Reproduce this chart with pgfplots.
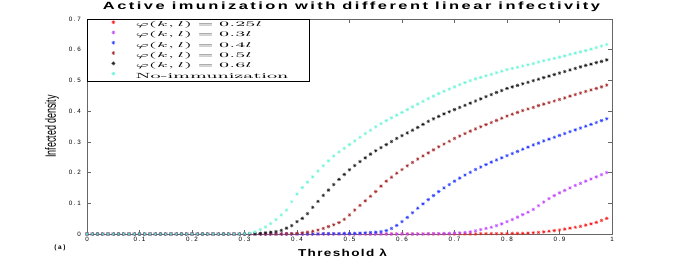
\documentclass[border=0pt]{standalone}
\usepackage{pgfplots}
\pgfplotsset{compat=1.18}
\usepackage{pgfplotstable}
\usepackage{fontspec}
\usepackage{graphicx}
\newfontfamily\tickfont[LetterSpace=25]{Liberation Sans}
\newfontfamily\titlefont[LetterSpace=15]{Liberation Sans}
\newfontfamily\labfont[LetterSpace=10]{Liberation Sans}
\newfontfamily\plainsans{Liberation Sans}
\definecolor{cred}{RGB}{245,30,30}
\definecolor{cpur}{RGB}{190,70,255}
\definecolor{cblu}{RGB}{40,60,255}
\definecolor{cbro}{RGB}{165,42,42}
\definecolor{cblk}{RGB}{25,25,25}
\definecolor{ccya}{RGB}{110,245,215}
\pgfdeclareplotmark{ast8}{%
  \pgfpathmoveto{\pgfqpoint{-\pgfplotmarksize}{0pt}}\pgfpathlineto{\pgfqpoint{\pgfplotmarksize}{0pt}}%
  \pgfpathmoveto{\pgfqpoint{0pt}{-\pgfplotmarksize}}\pgfpathlineto{\pgfqpoint{0pt}{\pgfplotmarksize}}%
  \pgfpathmoveto{\pgfqpoint{-0.707\pgfplotmarksize}{-0.707\pgfplotmarksize}}\pgfpathlineto{\pgfqpoint{0.707\pgfplotmarksize}{0.707\pgfplotmarksize}}%
  \pgfpathmoveto{\pgfqpoint{-0.707\pgfplotmarksize}{0.707\pgfplotmarksize}}\pgfpathlineto{\pgfqpoint{0.707\pgfplotmarksize}{-0.707\pgfplotmarksize}}%
  \pgfusepathqstroke}
\newcommand\legtxt[1]{\makebox[174bp][l]{\scalebox{2.55}[1]{#1}}}
\pgfplotstableread{
x r p u b k c
0.00 0 0 0 0 0 0
0.01 0 0 0 0 0 0
0.02 0 0 0 0 0 0
0.03 0 0 0 0 0 0
0.04 0 0 0 0 0 0
0.05 0 0 0 0 0 0
0.06 0 0 0 0 0 0
0.07 0 0 0 0 0 0
0.08 0 0 0 0 0 0
0.09 0 0 0 0 0 0
0.10 0 0 0 0 0 0
0.11 0 0 0 0 0 0
0.12 0 0 0 0 0 0
0.13 0 0 0 0 0 0
0.14 0 0 0 0 0 0
0.15 0 0 0 0 0 0
0.16 0 0 0 0 0 0
0.17 0 0 0 0 0 0
0.18 0 0 0 0 0 0
0.19 0 0 0 0 0 0
0.20 0 0 0 0 0 0
0.21 0 0 0 0 0 0
0.22 0 0 0 0 0 0
0.23 0 0 0 0 0 0
0.24 0 0 0 0 0 0
0.25 0 0 0 0 0 0
0.26 0 0 0 0 0 0
0.27 0 0 0 0 0 0
0.28 0 0 0 0 0 0
0.29 0 0 0 0 0 0
0.30 0 0 0 0 0 0.001
0.31 0 0 0 0 0 0.003
0.32 0 0 0 0 0.001 0.007
0.33 0 0 0 0 0.002 0.014
0.34 0 0 0 0 0.004 0.023
0.35 0 0 0 0 0.006 0.034
0.36 0 0 0 0 0.008 0.047
0.37 0 0 0 0 0.012 0.062
0.38 0 0 0 0.001 0.019 0.078
0.39 0 0 0 0.001 0.027 0.105
0.40 0 0 0 0.002 0.040 0.130
0.41 0 0 0 0.004 0.051 0.151
0.42 0 0 0 0.006 0.066 0.169
0.43 0 0 0 0.009 0.087 0.186
0.44 0 0 0 0.013 0.106 0.205
0.45 0 0 0.001 0.018 0.126 0.222
0.46 0 0 0.001 0.024 0.143 0.238
0.47 0 0 0.001 0.030 0.161 0.254
0.48 0 0 0.001 0.037 0.178 0.267
0.49 0 0 0.002 0.048 0.194 0.279
0.50 0 0 0.002 0.062 0.209 0.291
0.51 0 0 0.002 0.078 0.223 0.303
0.52 0 0 0.003 0.093 0.236 0.315
0.53 0 0 0.004 0.108 0.248 0.327
0.54 0 0 0.005 0.123 0.260 0.338
0.55 0 0 0.006 0.138 0.271 0.349
0.56 0 0 0.008 0.156 0.281 0.359
0.57 0 0 0.011 0.172 0.291 0.369
0.58 0 0 0.018 0.185 0.301 0.378
0.59 0 0 0.028 0.198 0.311 0.387
0.60 0 0 0.040 0.210 0.320 0.396
0.61 0 0 0.054 0.222 0.329 0.405
0.62 0 0 0.069 0.233 0.338 0.414
0.63 0 0 0.084 0.244 0.347 0.423
0.64 0 0 0.098 0.254 0.357 0.432
0.65 0 0.001 0.112 0.264 0.367 0.441
0.66 0 0.001 0.125 0.274 0.375 0.449
0.67 0 0.001 0.138 0.284 0.383 0.457
0.68 0 0.002 0.150 0.293 0.391 0.465
0.69 0 0.002 0.161 0.302 0.398 0.472
0.70 0 0.003 0.172 0.311 0.405 0.479
0.71 0 0.004 0.182 0.319 0.412 0.486
0.72 0 0.005 0.192 0.327 0.419 0.493
0.73 0 0.007 0.201 0.335 0.426 0.499
0.74 0 0.010 0.210 0.342 0.433 0.505
0.75 0.001 0.014 0.218 0.349 0.440 0.510
0.76 0.001 0.018 0.226 0.356 0.447 0.515
0.77 0.001 0.022 0.234 0.363 0.454 0.520
0.78 0.001 0.027 0.241 0.370 0.461 0.525
0.79 0.001 0.033 0.248 0.377 0.467 0.530
0.80 0.001 0.040 0.255 0.384 0.474 0.535
0.81 0.002 0.047 0.262 0.390 0.479 0.539
0.82 0.002 0.055 0.269 0.396 0.484 0.543
0.83 0.002 0.063 0.276 0.402 0.489 0.547
0.84 0.003 0.071 0.283 0.407 0.494 0.551
0.85 0.004 0.080 0.290 0.412 0.499 0.555
0.86 0.005 0.092 0.296 0.418 0.504 0.560
0.87 0.007 0.104 0.303 0.423 0.509 0.564
0.88 0.009 0.115 0.309 0.428 0.514 0.568
0.89 0.011 0.125 0.315 0.433 0.519 0.572
0.90 0.013 0.134 0.321 0.438 0.524 0.576
0.91 0.016 0.142 0.327 0.443 0.529 0.580
0.92 0.019 0.150 0.333 0.449 0.534 0.585
0.93 0.022 0.158 0.339 0.454 0.539 0.589
0.94 0.025 0.165 0.345 0.459 0.544 0.593
0.95 0.029 0.172 0.351 0.464 0.549 0.597
0.96 0.033 0.179 0.357 0.469 0.553 0.602
0.97 0.038 0.186 0.363 0.474 0.558 0.607
0.98 0.044 0.193 0.369 0.479 0.562 0.612
0.99 0.051 0.200 0.375 0.485 0.567 0.617
}\data
\begin{document}
\begin{tikzpicture}
\begin{axis}[name=ax, scale only axis, width=525bp, height=215bp,
  xmin=0, xmax=1, ymin=0, ymax=0.7,
  xtick={0,0.1,0.2,0.3,0.4,0.5,0.6,0.7,0.8,0.9,1},
  xticklabels={0,0.1,0.2,0.3,0.4,0.5,0.6,0.7,0.8,0.9,1},
  ytick={0,0.1,0.2,0.3,0.4,0.5,0.6,0.7},
  yticklabels={0,0.1,0.2,0.3,0.4,0.5,0.6,0.7},
  tick align=inside, major tick length=4bp,
  axis line style={gray!80!black, line width=0.6pt},
  tick style={gray!80!black, line width=0.5pt},
  ticklabel style={font=\tickfont\fontsize{6.3}{7}\selectfont, inner sep=0pt},
  xticklabel style={yshift=-2.5bp},
  yticklabel style={xshift=-6bp},
  title={\resizebox{497bp}{\height}{Active imunization with different linear infectivity}},
  title style={at={(0.5,1)}, anchor=base, xshift=2bp, yshift=4bp, inner sep=0pt, font=\titlefont\bfseries\fontsize{10.5}{12}\selectfont},
  legend style={at={(0,1)}, anchor=north west, draw=black, line width=0.4pt, fill=white,
    inner xsep=0pt, inner ysep=0pt, row sep=0pt, column sep=0pt,
    font=\fontsize{7.5}{8}\selectfont,
    nodes={inner sep=0pt, text height=7.3bp, text depth=3bp}},
  legend cell align=left,
  legend image code/.code={\path (0bp,0bp) (48bp,0bp); \draw[#1] plot coordinates {(26bp,2.2bp)};},
  every axis plot/.append style={only marks, mark=ast8, mark size=1.9bp, line width=0.35pt},
]
\addplot[color=cred] table[x=x,y=r]{\data};
\addlegendentry{\legtxt{$\varphi(k,l)=0.25l$}}
\addplot[color=cpur] table[x=x,y=p]{\data};
\addlegendentry{\legtxt{$\varphi(k,l)=0.3l$}}
\addplot[color=cblu] table[x=x,y=u]{\data};
\addlegendentry{\legtxt{$\varphi(k,l)=0.4l$}}
\addplot[color=cbro] table[x=x,y=b]{\data};
\addlegendentry{\legtxt{$\varphi(k,l)=0.5l$}}
\addplot[color=cblk] table[x=x,y=k]{\data};
\addlegendentry{\legtxt{$\varphi(k,l)=0.6l$}}
\addplot[color=ccya] table[x=x,y=c]{\data};
\addlegendentry{\legtxt{No-immunization}}
\end{axis}
\node[font=\labfont\bfseries\fontsize{10}{12}\selectfont, inner sep=0pt, anchor=base] at ([xshift=-7bp,yshift=-22bp]ax.south) {\resizebox{89bp}{\height}{Threshold λ}};
\node[rotate=90, inner sep=0pt, font=\plainsans\fontsize{15}{15}\selectfont] at ([xshift=-35bp]ax.west) {\scalebox{0.6}[1]{Infected density}};
\node[font=\tickfont\bfseries\fontsize{6.5}{7}\selectfont, inner sep=0pt] at ([xshift=-27bp,yshift=-14bp]ax.south west) {(a)};
\pgfresetboundingbox
\path ([xshift=-87bp,yshift=-29bp]ax.south west) rectangle ([xshift=64bp,yshift=19bp]ax.north east);
\end{tikzpicture}
\end{document}
